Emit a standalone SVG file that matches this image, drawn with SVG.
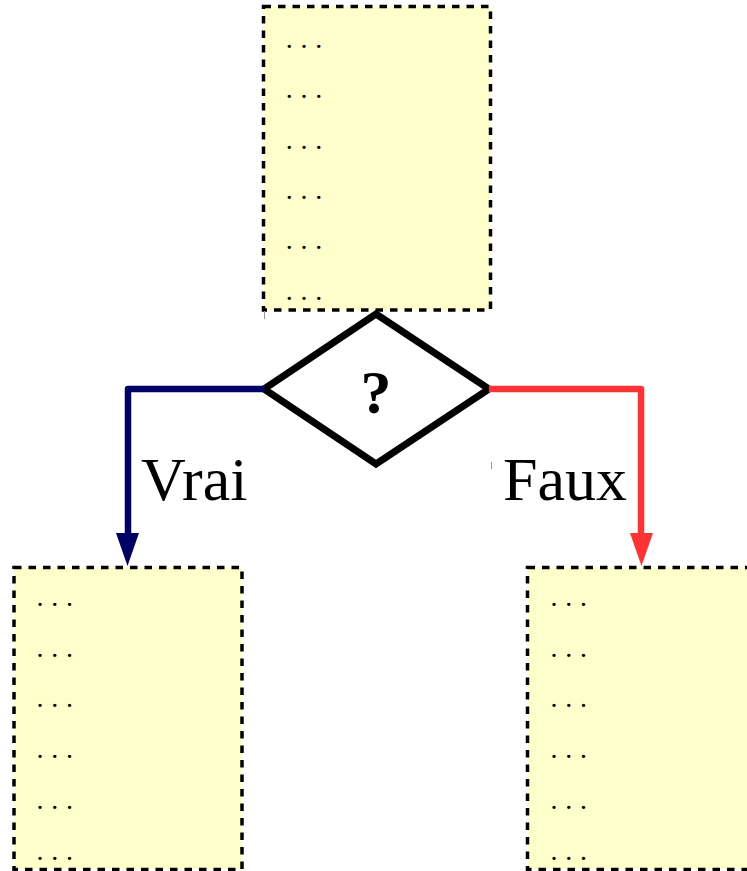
<svg xmlns="http://www.w3.org/2000/svg" width="747" height="871" viewBox="0 0 747 871">
  <defs>
    <style>
      .box { fill: #ffffcc; stroke: #000; stroke-width: 3.5; stroke-dasharray: 7.5 7; }
      .dots { font-family: "Liberation Serif", "Times New Roman", serif; font-size: 28px; letter-spacing: 7.7px; fill: #000; }
      .label { font-family: "Liberation Serif", "Times New Roman", serif; font-size: 62px; fill: #000; }
      .wire { fill: none; stroke-width: 6.5; stroke-linejoin: round; }
      .tick { stroke: #999; stroke-width: 1; }
    </style>
  </defs>
  <rect width="747" height="871" fill="#fff"/>

  <!-- top block -->
  <g id="block-top">
    <rect class="box" x="263.5" y="6.5" width="227" height="303.5"/>
    <text class="dots" x="285.8" y="48">...</text>
    <text class="dots" x="285.8" y="98">...</text>
    <text class="dots" x="285.8" y="149">...</text>
    <text class="dots" x="285.8" y="199">...</text>
    <text class="dots" x="285.8" y="249">...</text>
    <text class="dots" x="285.8" y="300">...</text>
    <line class="tick" x1="264.5" y1="311" x2="264.5" y2="319"/>
  </g>

  <!-- decision -->
  <g id="decision">
    <polygon points="376,314 489,389 376,464 264,389" fill="#fff" stroke="#000" stroke-width="7" stroke-linejoin="miter"/>
    <text class="label" x="376" y="413" text-anchor="middle" font-weight="bold">?</text>
  </g>

  <!-- branches -->
  <g id="connectors">
    <path class="wire" stroke="#000066" d="M264,389 H128 V536"/>
    <polygon points="116,533 139,533 127.5,566" fill="#000066"/>
    <path class="wire" stroke="#ff3333" d="M489,389 H641 V536"/>
    <polygon points="630,533 653,533 641.5,566" fill="#ff3333"/>
  </g>

  <g id="label-vrai">
    <text class="label" x="141" y="500">Vrai</text>
  </g>
  <g id="label-faux">
    <line class="tick" x1="491.5" y1="462" x2="491.5" y2="469"/>
    <text class="label" x="503" y="500">Faux</text>
  </g>

  <!-- left block -->
  <g id="block-true">
    <rect class="box" x="14" y="567.5" width="228" height="302"/>
    <text class="dots" x="36.5" y="606">...</text>
    <text class="dots" x="36.5" y="657">...</text>
    <text class="dots" x="36.5" y="707">...</text>
    <text class="dots" x="36.5" y="758">...</text>
    <text class="dots" x="36.5" y="809">...</text>
    <text class="dots" x="36.5" y="860">...</text>
  </g>

  <!-- right block -->
  <g id="block-false">
    <rect class="box" x="527.5" y="567.5" width="228" height="302"/>
    <text class="dots" x="550.5" y="606">...</text>
    <text class="dots" x="550.5" y="657">...</text>
    <text class="dots" x="550.5" y="707">...</text>
    <text class="dots" x="550.5" y="758">...</text>
    <text class="dots" x="550.5" y="809">...</text>
    <text class="dots" x="550.5" y="860">...</text>
  </g>
</svg>
